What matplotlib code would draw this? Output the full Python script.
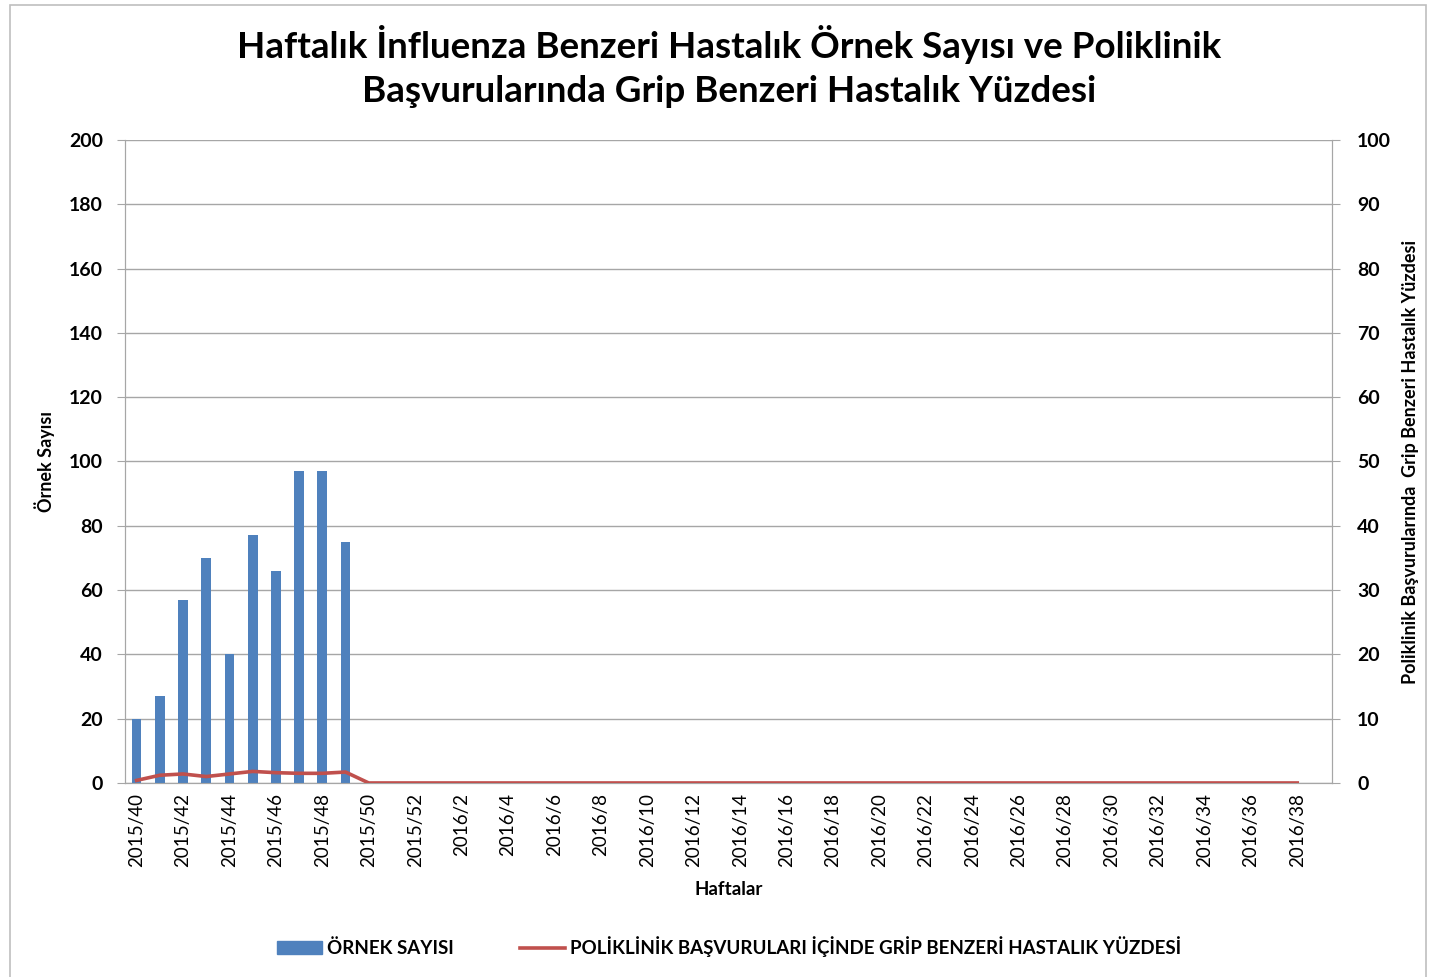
import matplotlib.pyplot as plt
import matplotlib.patches as mpatches
import numpy as np

plt.rcParams['font.family'] = ['Lato', 'DejaVu Sans']

# hafta etiketleri: 2015/40 .. 2015/52, 2016/1 .. 2016/39
weeks = ['2015/%d' % w for w in range(40, 53)] + ['2016/%d' % w for w in range(1, 40)]

ornek_sayisi = [20, 27, 57, 70, 40, 77, 66, 97, 97, 75]
gbh_yuzde = [0.4, 1.2, 1.4, 1.0, 1.4, 1.8, 1.6, 1.5, 1.5, 1.7] + [0] * 41

bar_color = '#4F81BD'
line_color = '#C0504D'
grid_color = '#A6A6A6'

fig = plt.figure(figsize=(14.3, 9.77), dpi=100)
ax = fig.add_axes([0.0874, 0.1986, 0.8441, 0.6581])
ax2 = ax.twinx()

x = np.arange(len(weeks))
bars = ax.bar(x[:len(ornek_sayisi)], ornek_sayisi, width=0.42, color=bar_color, zorder=3)
line, = ax2.plot(x[:len(gbh_yuzde)], gbh_yuzde, color=line_color, lw=2.6, zorder=4)

ax.set_xlim(-0.5, len(weeks) - 0.5)
ax.set_ylim(0, 200)
ax.set_yticks(range(0, 201, 20))
ax2.set_ylim(0, 100)
ax2.set_yticks(range(0, 101, 10))

ax.yaxis.grid(True, color=grid_color, lw=1)
ax.set_axisbelow(True)

ax.set_xticks(x[::2])
ax.set_xticklabels(weeks[::2], rotation=90, fontsize=13.5)
ax.tick_params(axis='x', length=0, pad=7)
ax.tick_params(axis='y', length=6, color=grid_color, labelsize=14, pad=10)
ax2.tick_params(axis='y', length=6, color=grid_color, labelsize=14, pad=12)
for t in ax.get_yticklabels() + ax2.get_yticklabels():
    t.set_fontweight('bold')

for a in (ax, ax2):
    a.spines['top'].set_visible(False)
    for s in ('left', 'right', 'bottom'):
        a.spines[s].set_color(grid_color)

ax.set_xlabel('Haftalar', fontsize=13.5, fontweight='bold', labelpad=10)
ax.set_ylabel('Örnek Sayısı', fontsize=13, fontweight='bold', labelpad=10)
ax2.set_ylabel('Poliklinik Başvurularında  Grip Benzeri Hastalık Yüzdesi',
               fontsize=13, fontweight='bold', rotation=90, labelpad=8)

fig.text(0.51, 0.932, 'Haftalık İnfluenza Benzeri Hastalık Örnek Sayısı ve Poliklinik\n'
         'Başvurularında Grip Benzeri Hastalık Yüzdesi',
         ha='center', va='center', fontsize=26.5, fontweight='bold', linespacing=1.4)

bar_handle = mpatches.Patch(color=bar_color)
fig.legend([bar_handle, line], ['ÖRNEK SAYISI', 'POLİKLİNİK BAŞVURULARI İÇİNDE GRİP BENZERİ HASTALIK YÜZDESİ'],
           loc='center', bbox_to_anchor=(0.51, 0.031), ncol=2, frameon=False,
           prop={'size': 13.5, 'weight': 'bold'}, handlelength=2.4, columnspacing=3.5, handletextpad=0.3)

# grafik çerçevesi
fig.add_artist(mpatches.Rectangle((0.007, -0.01), 0.99, 1.005, transform=fig.transFigure,
                                  fill=False, edgecolor='#BFBFBF', lw=1.2))

plt.savefig('out.png', dpi=100)
